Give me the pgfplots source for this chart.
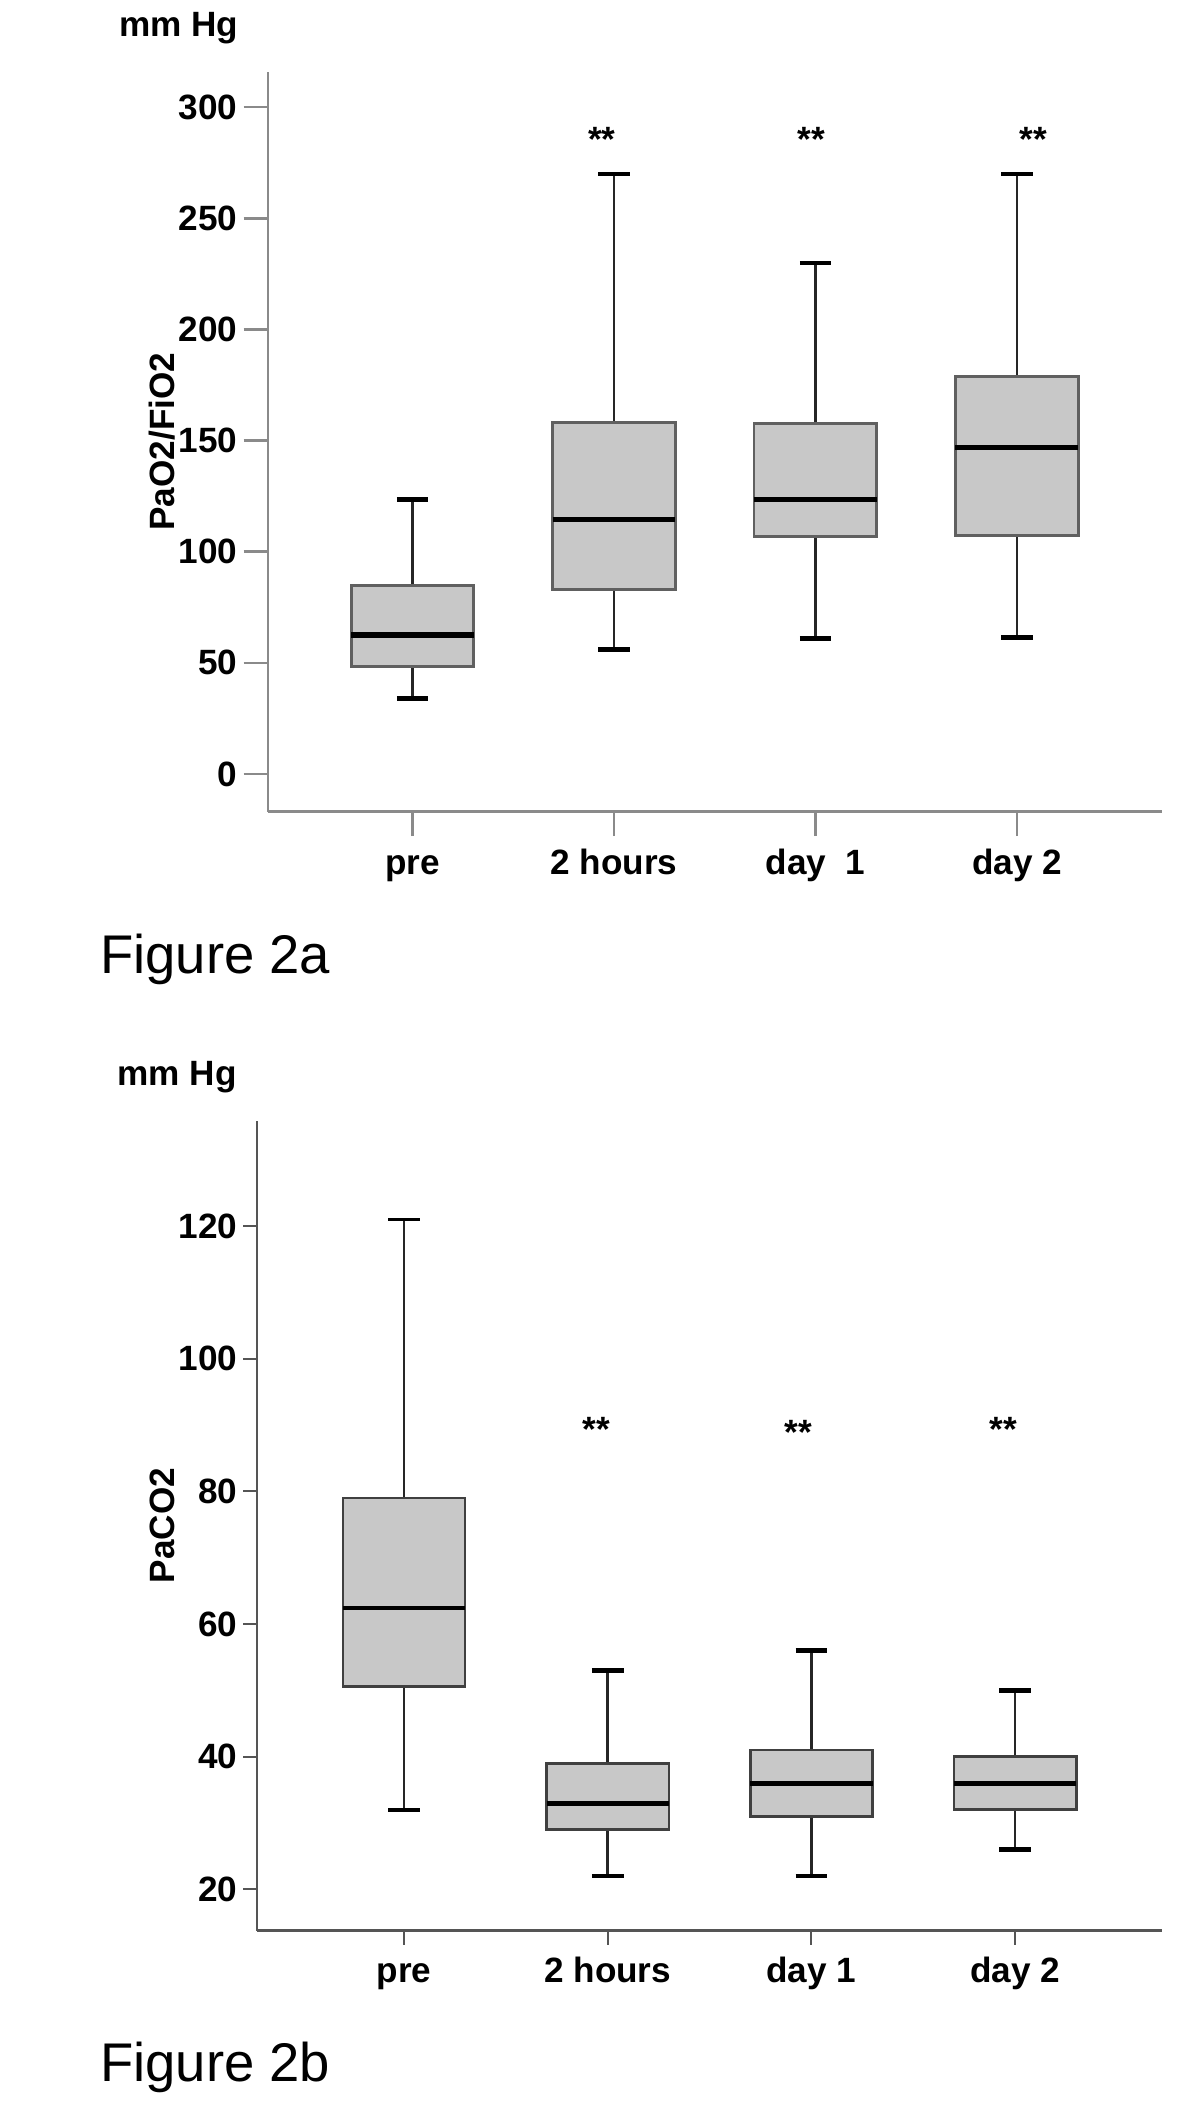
\documentclass[border=0pt]{standalone}
\usepackage{fontspec}
\setmainfont{Liberation Sans}
\usepackage{pgfplots}
\pgfplotsset{compat=1.18}

\definecolor{boxfill}{HTML}{C8C8C8}
\definecolor{axisgrayA}{HTML}{8A8A8A}
\definecolor{axisgrayB}{HTML}{555555}
\definecolor{edgeA}{HTML}{606060}
\definecolor{edgeB}{HTML}{404040}

\tikzset{sig/.style={anchor=base, inner sep=0pt, font=\fontsize{10}{12}\selectfont\bfseries}}

\pgfplotsset{
  spss/.style={
    scale only axis,
    axis lines=left,
    axis line style={-},
    tick align=outside,
    xtick={0,1,2,3},
    xtick pos=bottom, ytick pos=left,
    /pgf/number format/assume math mode=true,
    tick label style={font=\fontsize{10}{12}\selectfont\bfseries},
    xticklabel style={text height=7.3pt, text depth=2.2pt},
    yticklabel style={inner sep=1.5pt},
    every axis y label/.style={rotate=90, anchor=base,
      font=\fontsize{10}{12}\selectfont\bfseries},
  },
  boxA/.style={draw=edgeA, fill=boxfill, line width=0.85pt, mark=none},
  boxB/.style={draw=edgeB, fill=boxfill, line width=0.75pt, mark=none},
  med/.style={black, line width=1.5pt, mark=none},
  whisk/.style={black!85, line width=0.75pt, mark=none},
  cap/.style={black, line width=1.3pt, mark=none},
}

\begin{document}
\begin{tikzpicture}
\useasboundingbox (0,0) rectangle (120mm,-210.5mm);

% Figure 2a: PaO2/FiO2 (min, Q1, median, Q3, max per time point)
\begin{axis}[spss,
  at={(26.8mm,-81.17mm)}, anchor=south west,
  width=89.4mm, height=74.0mm,
  xmin=-0.717, xmax=3.72,
  ymin=-17, ymax=316,
  ytick={0,50,...,300},
  xticklabels={pre, 2 hours, day\ \ 1, day 2},
  axis line style={axisgrayA, line width=0.7pt},
  major tick style={axisgrayA, line width=0.7pt},
  major tick length=2.45mm,
  ylabel={PaO2/FiO2},
  ylabel style={at={(axis description cs:-0.105,0.5)}},
]
% pre: 34 / 48.5 / 62.5 / 85 / 123.5
\addplot[whisk] coordinates {(0,34) (0,48.5)};
\addplot[whisk] coordinates {(0,85) (0,123.5)};
\addplot[boxA] coordinates {(-0.305,48.5) (0.305,48.5) (0.305,85) (-0.305,85)} --cycle;
\addplot[med] coordinates {(-0.305,62.5) (0.305,62.5)};
\addplot[cap] coordinates {(-0.0775,34) (0.0775,34)};
\addplot[cap] coordinates {(-0.0775,123.5) (0.0775,123.5)};
% 2 hours: 56 / 83 / 114.5 / 158 / 270
\addplot[whisk] coordinates {(1,56) (1,83)};
\addplot[whisk] coordinates {(1,158) (1,270)};
\addplot[boxA] coordinates {(0.695,83) (1.305,83) (1.305,158) (0.695,158)} --cycle;
\addplot[med] coordinates {(0.695,114.5) (1.305,114.5)};
\addplot[cap] coordinates {(0.9225,56) (1.0775,56)};
\addplot[cap] coordinates {(0.9225,270) (1.0775,270)};
% day 1: 61 / 107 / 123.5 / 157.5 / 230
\addplot[whisk] coordinates {(2,61) (2,107)};
\addplot[whisk] coordinates {(2,157.5) (2,230)};
\addplot[boxA] coordinates {(1.695,107) (2.305,107) (2.305,157.5) (1.695,157.5)} --cycle;
\addplot[med] coordinates {(1.695,123.5) (2.305,123.5)};
\addplot[cap] coordinates {(1.9225,61) (2.0775,61)};
\addplot[cap] coordinates {(1.9225,230) (2.0775,230)};
% day 2: 61.5 / 107.5 / 147 / 179 / 270
\addplot[whisk] coordinates {(3,61.5) (3,107.5)};
\addplot[whisk] coordinates {(3,179) (3,270)};
\addplot[boxA] coordinates {(2.695,107.5) (3.305,107.5) (3.305,179) (2.695,179)} --cycle;
\addplot[med] coordinates {(2.695,147) (3.305,147)};
\addplot[cap] coordinates {(2.9225,61.5) (3.0775,61.5)};
\addplot[cap] coordinates {(2.9225,270) (3.0775,270)};
\node[sig] at (axis cs:0.94,280) {**};
\node[sig] at (axis cs:1.98,280) {**};
\node[sig] at (axis cs:3.08,280) {**};
\end{axis}

\node[anchor=base west, inner sep=0pt, font=\fontsize{10}{12}\selectfont\bfseries]
  at (11.86mm,-3.67mm) {mm Hg};
\node[anchor=base west, inner sep=0pt, font=\fontsize{15.5}{18}\selectfont]
  at (9.95mm,-97.3mm) {Figure 2a};

% Figure 2b: PaCO2
\begin{axis}[spss,
  at={(25.74mm,-193.05mm)}, anchor=south west,
  width=90.43mm, height=81.0mm,
  xmin=-0.72, xmax=3.72,
  ymin=13.8, ymax=135.9,
  ytick={20,40,...,120},
  xticklabels={pre, 2 hours, day 1, day 2},
  axis line style={axisgrayB, line width=0.6pt},
  major tick style={axisgrayB, line width=0.6pt},
  major tick length=1.4mm,
  ylabel={PaCO2},
  ylabel style={at={(axis description cs:-0.092,0.5)}},
]
% pre: 32 / 50.6 / 62.4 / 79 / 121
\addplot[whisk] coordinates {(0,32) (0,50.6)};
\addplot[whisk] coordinates {(0,79) (0,121)};
\addplot[boxB] coordinates {(-0.3,50.6) (0.3,50.6) (0.3,79) (-0.3,79)} --cycle;
\addplot[med, line width=1.0pt] coordinates {(-0.3,62.4) (0.3,62.4)};
\addplot[cap] coordinates {(-0.0775,32) (0.0775,32)};
\addplot[cap, line width=1.0pt] coordinates {(-0.0775,121) (0.0775,121)};
% 2 hours: 22 / 29 / 33 / 39 / 53
\addplot[whisk] coordinates {(1,22) (1,29)};
\addplot[whisk] coordinates {(1,39) (1,53)};
\addplot[boxB] coordinates {(0.7,29) (1.3,29) (1.3,39) (0.7,39)} --cycle;
\addplot[med] coordinates {(0.7,33) (1.3,33)};
\addplot[cap] coordinates {(0.9225,22) (1.0775,22)};
\addplot[cap] coordinates {(0.9225,53) (1.0775,53)};
% day 1: 22 / 31 / 36 / 41 / 56
\addplot[whisk] coordinates {(2,22) (2,31)};
\addplot[whisk] coordinates {(2,41) (2,56)};
\addplot[boxB] coordinates {(1.7,31) (2.3,31) (2.3,41) (1.7,41)} --cycle;
\addplot[med] coordinates {(1.7,36) (2.3,36)};
\addplot[cap] coordinates {(1.9225,22) (2.0775,22)};
\addplot[cap] coordinates {(1.9225,56) (2.0775,56)};
% day 2: 26 / 32 / 36 / 40 / 50
\addplot[whisk] coordinates {(3,26) (3,32)};
\addplot[whisk] coordinates {(3,40) (3,50)};
\addplot[boxB] coordinates {(2.7,32) (3.3,32) (3.3,40) (2.7,40)} --cycle;
\addplot[med] coordinates {(2.7,36) (3.3,36)};
\addplot[cap] coordinates {(2.9225,26) (3.0775,26)};
\addplot[cap] coordinates {(2.9225,50) (3.0775,50)};
\node[sig] at (axis cs:0.943,87.5) {**};
\node[sig] at (axis cs:1.936,87.0) {**};
\node[sig] at (axis cs:2.943,87.5) {**};
\end{axis}

\node[anchor=base west, inner sep=0pt, font=\fontsize{10}{12}\selectfont\bfseries]
  at (11.67mm,-108.5mm) {mm Hg};
\node[anchor=base west, inner sep=0pt, font=\fontsize{15.5}{18}\selectfont]
  at (9.95mm,-208.1mm) {Figure 2b};
\end{tikzpicture}
\end{document}
